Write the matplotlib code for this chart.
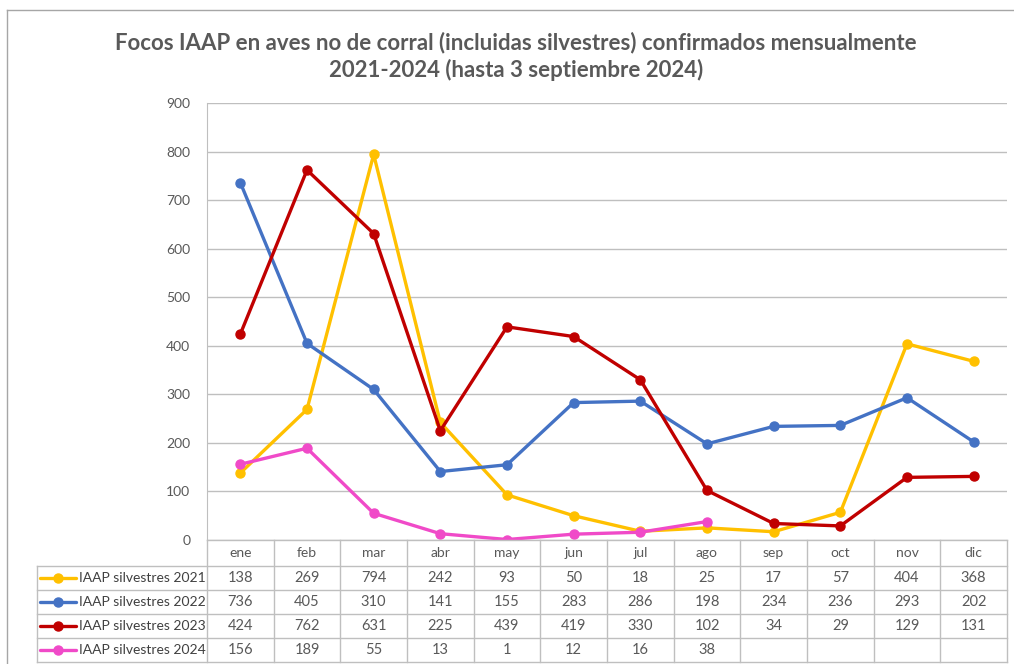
import numpy as np
import matplotlib.pyplot as plt
from matplotlib.transforms import blended_transform_factory
from matplotlib.lines import Line2D

months = ['ene', 'feb', 'mar', 'abr', 'may', 'jun', 'jul', 'ago', 'sep', 'oct', 'nov', 'dic']
series_names = ['IAAP silvestres 2021', 'IAAP silvestres 2022',
                'IAAP silvestres 2023', 'IAAP silvestres 2024']
v2021 = [138, 269, 794, 242, 93, 50, 18, 25, 17, 57, 404, 368]
v2022 = [736, 405, 310, 141, 155, 283, 286, 198, 234, 236, 293, 202]
v2023 = [424, 762, 631, 225, 439, 419, 330, 102, 34, 29, 129, 131]
v2024 = [156, 189, 55, 13, 1, 12, 16, 38, None, None, None, None]
colors = ['#FFC000', '#4472C4', '#C00000', '#F04AC8']
title = ('Focos IAAP en aves no de corral (incluidas silvestres) confirmados mensualmente\n'
         '2021-2024 (hasta 3 septiembre 2024)')

plt.rcParams['font.family'] = ['Lato', 'DejaVu Sans']
W, H = 1014, 664
fig = plt.figure(figsize=(W / 100, H / 100), dpi=100)

# plot area in pixels
left, right, top, bottom = 207, 1007, 103, 540
ax = fig.add_axes([left / W, 1 - bottom / H, (right - left) / W, (bottom - top) / H])

x = np.arange(len(months))
all_series = [v2021, v2022, v2023, v2024]
for vals, c in zip(all_series, colors):
    y = np.array([np.nan if v is None else v for v in vals], dtype=float)
    ax.plot(x, y, color=c, lw=2.4, marker='o', ms=6.5, solid_capstyle='round')

ax.set_xlim(-0.5, 11.5)
ax.set_ylim(0, 900)
ax.set_yticks(range(0, 901, 100))
ax.set_xticks([])
ax.grid(axis='y', color='#BFBFBF', lw=1)
ax.set_axisbelow(True)
for s in ['top', 'right', 'bottom']:
    ax.spines[s].set_visible(False)
ax.spines['left'].set_color('#BFBFBF')
ax.tick_params(axis='y', length=0, pad=12, labelsize=10, labelcolor='#595959')

fig.text(516 / W, 1 - 56 / H, title, ha='center', va='center', fontsize=16,
         fontweight='bold', color='#595959', linespacing=1.3)

# data table below the axes
tr = blended_transform_factory(ax.transData, ax.transAxes)
ph = bottom - top
def yf(py):
    return -(py - bottom) / ph

grid_c = '#BFBFBF'
row_edges = [540, 566, 590, 614, 638, 662]
leg_left = -0.5 - (left - 37) / ((right - left) / 12)
kw = dict(transform=tr, clip_on=False, color=grid_c, lw=1)
# horizontal lines
ax.add_line(Line2D([-0.5, 11.5], [yf(540)] * 2, **kw))
for r in row_edges[1:]:
    ax.add_line(Line2D([leg_left, 11.5], [yf(r)] * 2, **kw))
# vertical lines
for i in range(13):
    ax.add_line(Line2D([i - 0.5] * 2, [yf(540), yf(662)], **kw))
ax.add_line(Line2D([leg_left] * 2, [yf(566), yf(662)], **kw))

for i, m in enumerate(months):
    ax.text(i, yf(553), m, transform=tr, ha='center', va='center',
            fontsize=10, color='#595959', clip_on=False)
for r, (name, vals, c) in enumerate(zip(series_names, all_series, colors)):
    yc = yf((row_edges[r + 1] + row_edges[r + 2]) / 2)
    ax.add_line(Line2D([leg_left + 0.045, leg_left + 0.585], [yc, yc], transform=tr,
                       clip_on=False, color=c, lw=2.4, solid_capstyle='round'))
    ax.plot([leg_left + 0.315], [yc], transform=tr, clip_on=False, color=c,
            marker='o', ms=6.5)
    ax.text(leg_left + 0.63, yc, name, transform=tr, ha='left', va='center',
            fontsize=10, color='#404040', clip_on=False)
    for i, v in enumerate(vals):
        if v is not None:
            ax.text(i, yc, str(v), transform=tr, ha='center', va='center',
                    fontsize=10.5, color='#595959', clip_on=False)

# outer chart border
fig.add_artist(Line2D([7 / W, 1], [1 - 10 / H] * 2, color='#A6A6A6', lw=1))
fig.add_artist(Line2D([7 / W] * 2, [0, 1 - 10 / H], color='#A6A6A6', lw=1))

fig.savefig('out.png', dpi=100)
